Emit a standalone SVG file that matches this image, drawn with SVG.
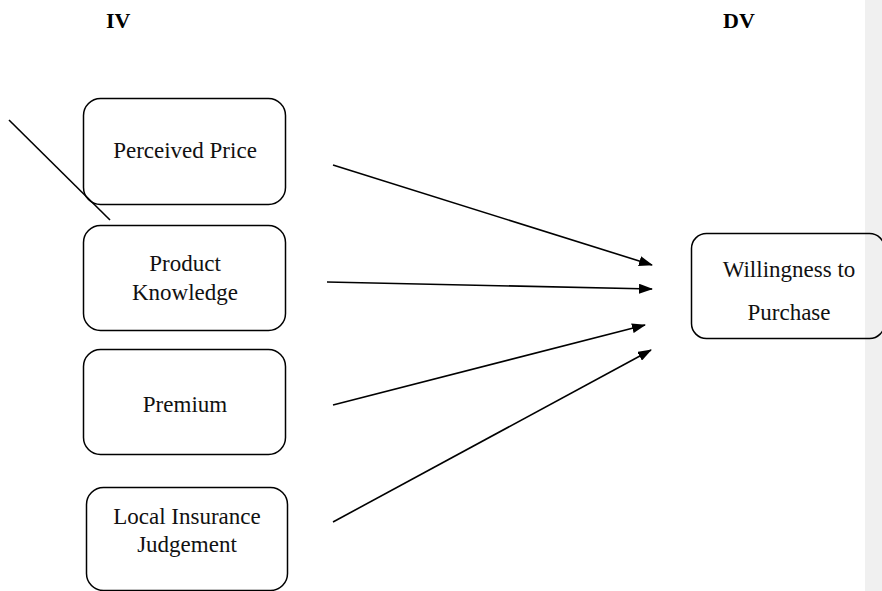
<svg xmlns="http://www.w3.org/2000/svg" width="882" height="591" viewBox="0 0 882 591">
<style>
.box{fill:none;stroke:#000;stroke-width:1.5}
.t{font-family:"Liberation Serif","Times New Roman",serif;font-size:23px;fill:#111;text-anchor:middle}
.h{font-family:"Liberation Serif","Times New Roman",serif;font-size:22px;font-weight:bold;fill:#000}
.c{stroke:#000;stroke-width:1.6;fill:none}
</style>
<defs>
<marker id="ah" viewBox="0 0 14 10" refX="13" refY="5" markerWidth="14" markerHeight="10" markerUnits="userSpaceOnUse" orient="auto">
<path d="M0,0 L14,5 L0,10 z" fill="#000"/>
</marker>
</defs>
<rect x="0" y="0" width="882" height="591" fill="#fff"/>
<rect x="865" y="0" width="17" height="591" fill="#f0f0f0"/>
<text class="h" x="106" y="28">IV</text>
<text class="h" x="723" y="28">DV</text>
<g id="n1"><rect class="box" x="83.5" y="98.5" width="202" height="106" rx="17"/><text class="t" x="185" y="158">Perceived Price</text></g>
<g id="n2"><rect class="box" x="83.5" y="225.5" width="202" height="105" rx="17"/><text class="t" x="185" y="271">Product</text><text class="t" x="185" y="300">Knowledge</text></g>
<g id="n3"><rect class="box" x="83.5" y="349.5" width="202" height="105" rx="17"/><text class="t" x="185" y="412">Premium</text></g>
<g id="n4"><rect class="box" x="86.5" y="487.5" width="201" height="103" rx="17"/><text class="t" x="187" y="524">Local Insurance</text><text class="t" x="187" y="552">Judgement</text></g>
<g id="n5"><rect class="box" x="691.5" y="233.5" width="193" height="105" rx="15"/><text class="t" x="789" y="277">Willingness to</text><text class="t" x="789" y="320">Purchase</text></g>
<g id="connectors">
<line class="c" x1="9" y1="120" x2="110" y2="220"/>
<line class="c" x1="333" y1="165" x2="652" y2="265" marker-end="url(#ah)"/>
<line class="c" x1="327" y1="282" x2="652" y2="289" marker-end="url(#ah)"/>
<line class="c" x1="333" y1="405" x2="645" y2="325" marker-end="url(#ah)"/>
<line class="c" x1="333" y1="522" x2="651" y2="350" marker-end="url(#ah)"/>
</g>
</svg>
